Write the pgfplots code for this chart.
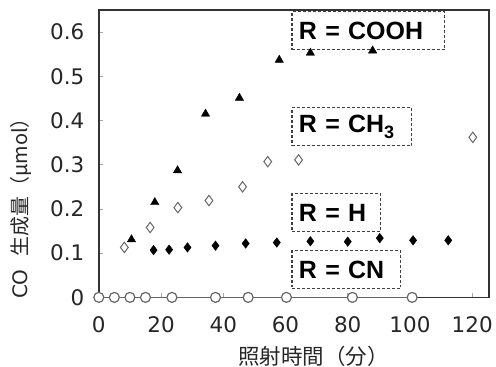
\documentclass[border=0pt]{standalone}
\usepackage{pgfplots}
\pgfplotsset{compat=1.18}
\usepackage{fontspec}
\setmainfont{DejaVu Sans}
\newfontfamily\lab{Liberation Sans}
\newfontfamily\cjk{Noto Sans CJK JP}
\tikzset{boxlab/.style={draw=black!75, dash pattern=on 3pt off 2pt, line width=1.2pt,
   font=\lab\bfseries\fontsize{25}{26}\selectfont, align=left, inner xsep=7pt, inner ysep=0pt,
   minimum height=38pt, anchor=west}}
\begin{document}
\begin{tikzpicture}
\begin{axis}[
 width=391pt,height=288pt,scale only axis,
 xmin=0,xmax=125.4,ymin=0,ymax=0.65,
 xtick={0,20,40,60,80,100,120}, ytick={0,0.1,0.2,0.3,0.4,0.5,0.6},
 xtick pos=bottom, ytick pos=left, tick align=inside,
 major tick length=4pt, tick style={draw=black!35, line width=0.8pt},
 axis line style={draw=black!80, line width=1.5pt},
 /pgf/number format/assume math mode=true,
 tick label style={font=\fontsize{21.5}{24}\selectfont, text=black!85},
 xticklabel style={yshift=-16pt},
 yticklabel style={/pgf/number format/fixed, /pgf/number format/precision=1, xshift=-11pt},
 clip=false,
]
% R = CN
\addplot[draw=black!60, line width=1.5pt, mark=*, mark size=5pt,
  mark options={draw=black!60, fill=white, line width=1.2pt}]
  coordinates {(0,0)(5,0)(10,0)(15,0)(23.5,0)(37.5,0)(48,0)(60.3,0)(81.5,0)(100.7,0)};
% R = COOH
\addplot[only marks, mark=triangle*, mark size=4.8pt, black]
  coordinates {(10.5,0.131)(18,0.215)(25.3,0.287)(34.3,0.415)(45.2,0.451)(58,0.537)(68,0.553)(88,0.558)};
% R = CH3
\addplot[only marks, mark=diamond, mark size=5.2pt,
  mark options={draw=black!60, fill=white, line width=1pt}]
  coordinates {(8.2,0.113)(16.5,0.158)(25.4,0.203)(35.4,0.219)(46.2,0.25)(54.3,0.307)(64.2,0.311)(120.2,0.362)};
% R = H
\addplot[only marks, mark=diamond*, mark size=4.8pt, black]
  coordinates {(17.6,0.107)(22.6,0.108)(28.5,0.113)(37.5,0.117)(47.2,0.122)(57.2,0.124)(68,0.127)(80,0.126)(90.3,0.134)(101,0.129)(112.3,0.129)};
\node[boxlab, text width=139pt] at (axis cs:61.9,0.603) {R = COOH};
\node[boxlab, text width=106pt] at (axis cs:61.9,0.386) {R = CH\raisebox{-6pt}{\fontsize{18}{18}\selectfont 3}};
\node[boxlab, text width=75pt] at (axis cs:61.9,0.192) {R = H};
\node[boxlab, text width=95pt] at (axis cs:61.9,0.063) {R = CN};
\node[rotate=90, anchor=west, inner sep=0pt, font=\fontsize{20}{22}\selectfont, text=black!85]
  at (axis cs:-25,-0.004) {CO\ \ \cjk 生成量（μmol）};
\node[anchor=center, inner sep=0pt, font=\cjk\fontsize{21.5}{22}\selectfont, text=black!85]
  at (axis cs:69,-0.133) {照射時間（分）};
\end{axis}
\path (current axis.south west) ++(-99pt,-67pt) rectangle ++(496pt,365pt);
\end{tikzpicture}
\end{document}
